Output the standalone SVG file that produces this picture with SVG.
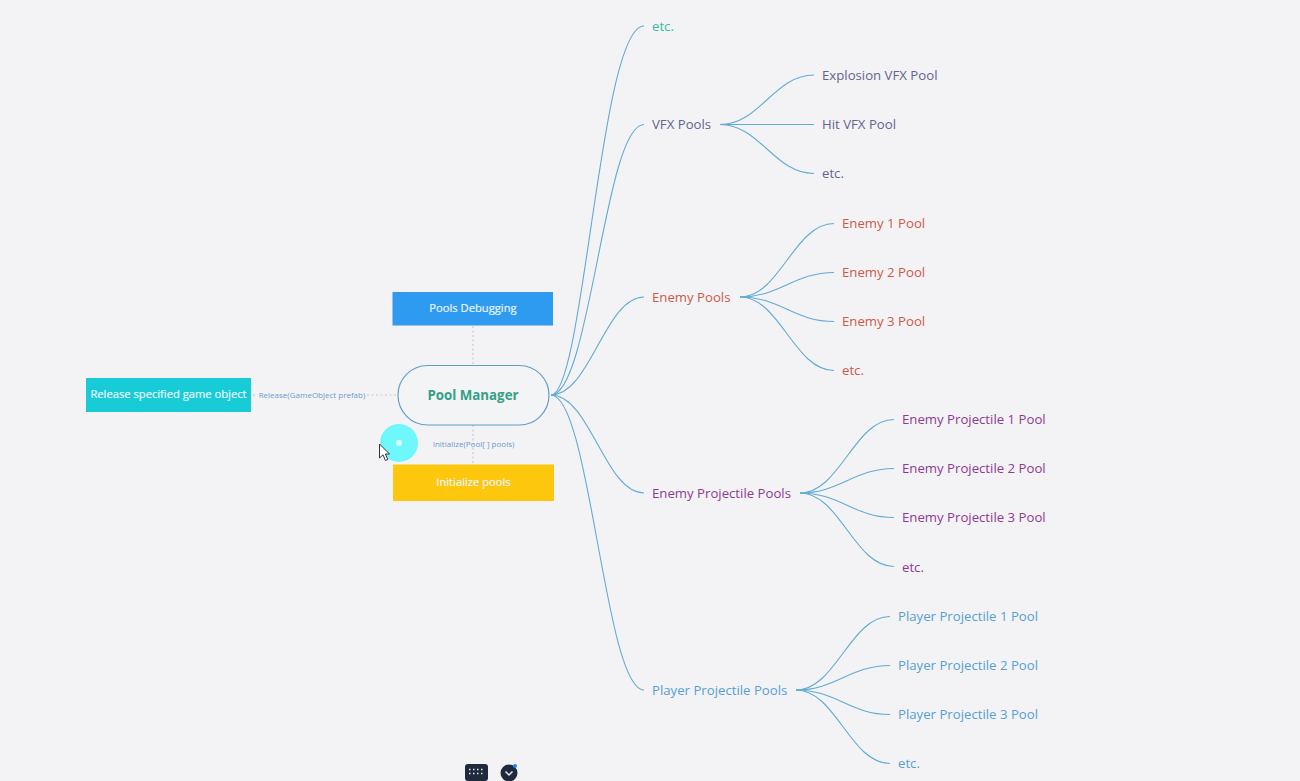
<svg xmlns="http://www.w3.org/2000/svg" width="1300" height="781" viewBox="0 0 1300 781">
<style>
.t{font-family:"Open Sans","Liberation Sans",sans-serif;font-size:13.200px}
.m{text-anchor:middle}
.c{fill:none;stroke:#62abd3;stroke-width:1.100}
.d{fill:none;stroke:#c3ccd6;stroke-width:1.200;stroke-dasharray:2 2.500}
.w{fill:#e9f6fb;font-size:11.200px;font-weight:400;stroke:#e9f6fb;stroke-width:.2px}
.l{fill:#6a9bd0;font-size:8px}
.teal{fill:#3bb8a8}.vfx{fill:#62658f}.en{fill:#c95a4a}.ep{fill:#8c3a94}.pp{fill:#56a0d2}
</style>
<rect width="1300" height="781" fill="#f3f3f5"/>
<g id="connectors">
<path class="d" d="M473 326V365M473 425V464M253 395H258M367 395H397"/>
<path class="c" d="M551 395C584 395 600 26 644 26"/>
<path class="c" d="M551 395C590 395 605 124.500 644 124.500"/>
<path class="c" d="M551 395C590 395 605 297 644 297"/>
<path class="c" d="M551 395C590 395 605 493 644 493"/>
<path class="c" d="M551 395C590 395 605 690 644 690"/>
<path class="c" d="M720 124.500C760 124.500 774 75 814 75"/>
<path class="c" d="M720 124.500H814"/>
<path class="c" d="M720 124.500C760 124.500 774 173.500 814 173.500"/>
<path class="c" d="M740 297C780 297 794 223.500 834 223.500"/>
<path class="c" d="M740 297C780 297 794 272.500 834 272.500"/>
<path class="c" d="M740 297C780 297 794 321.500 834 321.500"/>
<path class="c" d="M740 297C780 297 794 370.500 834 370.500"/>
<path class="c" d="M800 493C840 493 854 419.500 894 419.500"/>
<path class="c" d="M800 493C840 493 854 468.500 894 468.500"/>
<path class="c" d="M800 493C840 493 854 517.500 894 517.500"/>
<path class="c" d="M800 493C840 493 854 566.500 894 566.500"/>
<path class="c" d="M796 690C836 690 850 616.500 890 616.500"/>
<path class="c" d="M796 690C836 690 850 665.500 890 665.500"/>
<path class="c" d="M796 690C836 690 850 714.500 890 714.500"/>
<path class="c" d="M796 690C836 690 850 763.500 890 763.500"/>
</g>
<g id="pool-manager"><rect x="398" y="365.500" width="151" height="59.500" rx="29.700" fill="#f3f4f6" stroke="#5f9fc6" stroke-width="1.200"/><text class="t m" x="473" y="399.500" font-weight="700" fill="#35a085" style="font-size:13.300px">Pool Manager</text></g>
<g id="pools-debugging"><rect x="392.500" y="292" width="160.500" height="33.500" fill="#2e9bf0"/><text class="t m w" x="473" y="311.500">Pools Debugging</text></g>
<g id="initialize-pools"><rect x="393" y="464.500" width="161" height="36.500" fill="#fdc70e"/><text class="t m w" x="473.500" y="485.500">Initialize pools</text></g>
<g id="release-object"><rect x="86" y="378" width="165" height="34" fill="#17ccd6"/><text class="t m w" x="168.500" y="397.500">Release specified game object</text></g>
<g id="label-release"><text class="t m l" x="312" y="397.500">Release(GameObject prefab)</text></g>
<g id="label-initialize"><text class="t m l" x="473.500" y="447">Initialize(Pool[ ] pools)</text></g>
<g id="etc-top"><text class="t teal" x="652" y="31">etc.</text></g>
<g id="vfx-pools"><text class="t vfx" x="652" y="129">VFX Pools</text></g>
<g id="explosion-vfx"><text class="t vfx" x="822" y="80">Explosion VFX Pool</text></g>
<g id="hit-vfx"><text class="t vfx" x="822" y="129">Hit VFX Pool</text></g>
<g id="vfx-etc"><text class="t vfx" x="822" y="178">etc.</text></g>
<g id="enemy-pools"><text class="t en" x="652" y="301.500">Enemy Pools</text></g>
<g id="enemy-1"><text class="t en" x="842" y="228">Enemy 1 Pool</text></g>
<g id="enemy-2"><text class="t en" x="842" y="277">Enemy 2 Pool</text></g>
<g id="enemy-3"><text class="t en" x="842" y="326">Enemy 3 Pool</text></g>
<g id="enemy-etc"><text class="t en" x="842" y="375">etc.</text></g>
<g id="enemy-projectile-pools"><text class="t ep" x="652" y="497.500">Enemy Projectile Pools</text></g>
<g id="enemy-projectile-1"><text class="t ep" x="902" y="424">Enemy Projectile 1 Pool</text></g>
<g id="enemy-projectile-2"><text class="t ep" x="902" y="473">Enemy Projectile 2 Pool</text></g>
<g id="enemy-projectile-3"><text class="t ep" x="902" y="522">Enemy Projectile 3 Pool</text></g>
<g id="enemy-projectile-etc"><text class="t ep" x="902" y="571.500">etc.</text></g>
<g id="player-projectile-pools"><text class="t pp" x="652" y="694.500">Player Projectile Pools</text></g>
<g id="player-projectile-1"><text class="t pp" x="898" y="621">Player Projectile 1 Pool</text></g>
<g id="player-projectile-2"><text class="t pp" x="898" y="670">Player Projectile 2 Pool</text></g>
<g id="player-projectile-3"><text class="t pp" x="898" y="719">Player Projectile 3 Pool</text></g>
<g id="player-projectile-etc"><text class="t pp" x="898" y="768">etc.</text></g>
<circle cx="399" cy="443" r="19" fill="#6ff8fb"/>
<circle cx="399" cy="443" r="3" fill="#dffdfd"/>
<path d="M379.500 444V458L383 454.800L385.400 460.500L387.800 459.500L385.400 454H389.500Z" fill="#fff" stroke="#30343c" stroke-width="1"/>
<rect x="465" y="764" width="23" height="17" rx="3" fill="#1f2b3d"/>
<path d="M469 769.500H484M469 773.500H484" stroke="#e8ebef" stroke-width="1.500" stroke-dasharray="1.500 2.500" fill="none"/>
<circle cx="509" cy="773" r="8.500" fill="#1f2b3d"/>
<path d="M505.500 771.500L509 775L512.500 771.500" stroke="#e8ebef" stroke-width="1.500" fill="none"/>
<circle cx="515" cy="766" r="2" fill="#2f7df0"/>
</svg>
